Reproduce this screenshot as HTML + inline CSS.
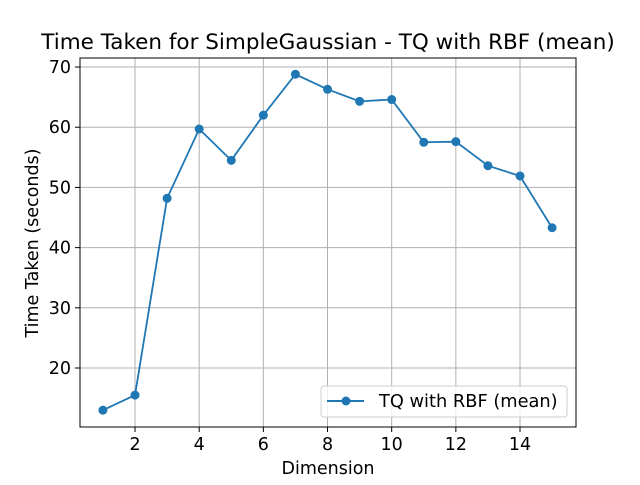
<!DOCTYPE html>
<html><head><meta charset="utf-8"><style>
body{margin:0;background:#fff;}
svg text{font-family:"DejaVu Sans","Liberation Sans",sans-serif;fill:#000;}
</style></head><body>
<svg width="640" height="480" xmlns="http://www.w3.org/2000/svg">
<rect width="640" height="480" fill="#fff"/>
<g id="grid"></g>
<g id="ticks"></g>
<g id="series"></g>
<rect x="80" y="58" width="496" height="369" fill="none" stroke="#000" stroke-width="1"/>
<text x="328" y="49" font-size="21.5" text-anchor="middle">Time Taken for SimpleGaussian - TQ with RBF (mean)</text>
<text x="328" y="474" font-size="17.5" text-anchor="middle">Dimension</text>
<text transform="translate(38,243) rotate(-90)" font-size="17.5" text-anchor="middle">Time Taken (seconds)</text>
<g>
<rect x="321" y="386" width="246" height="31" rx="3" fill="#fff" fill-opacity="0.8" stroke="#ccc"/>
<line x1="327" y1="401" x2="364" y2="401" stroke="#1f77b4" stroke-width="2"/>
<circle cx="346" cy="401" r="4.5" fill="#1f77b4"/>
<text x="379" y="407" font-size="17.8">TQ with RBF (mean)</text>
</g>
</svg>
<script>
const dims=[1,2,3,4,5,6,7,8,9,10,11,12,13,14,15];
const times=[13.0,15.5,48.2,59.7,54.5,62.0,68.8,66.3,64.3,64.6,57.5,57.6,53.6,51.9,43.3];
const xTicks=[2,4,6,8,10,12,14];
const yTicks=[20,30,40,50,60,70];
const NS="http://www.w3.org/2000/svg";
const L=80,R=576,T=58,B=427;
const xMin=0.285,xMax=15.745,yMin=10.2,yMax=71.5;
const xs=v=>L+(v-xMin)/(xMax-xMin)*(R-L);
const ys=v=>B-(v-yMin)/(yMax-yMin)*(B-T);
function mk(tag,attrs,parent){const e=document.createElementNS(NS,tag);for(const k in attrs)e.setAttribute(k,attrs[k]);parent.appendChild(e);return e;}
const grid=document.getElementById('grid'),ticks=document.getElementById('ticks'),series=document.getElementById('series');
xTicks.forEach(t=>{const x=xs(t);
 let g=mk('line',{x1:x,x2:x,y1:T,y2:B,stroke:'#b0b0b0','stroke-width':1},grid);
 
 
 let tk=mk('line',{x1:x,x2:x,y1:B,y2:B+5,stroke:'#000'},ticks);
 
 
 let tx=mk('text',{x:x,y:B+23,'font-size':17.5,'text-anchor':'middle'},ticks);tx.textContent=t;
 
 
});
yTicks.forEach(t=>{const y=ys(t);
 let g=mk('line',{x1:L,x2:R,y1:y,y2:y,stroke:'#b0b0b0','stroke-width':1},grid);
 
 
 let tk=mk('line',{x1:L-5,x2:L,y1:y,y2:y,stroke:'#000'},ticks);
 
 
 let tx=mk('text',{x:L-9,y:y+6,'font-size':17.5,'text-anchor':'end'},ticks);tx.textContent=t;
 
 
});
const pts=dims.map((d,i)=>xs(d)+','+ys(times[i])).join(' ');
let pl=mk('polyline',{points:pts,fill:'none',stroke:'#1f77b4','stroke-width':1.8},series);


dims.forEach((d,i)=>{let c=mk('circle',{cx:xs(d),cy:ys(times[i]),r:4.5,fill:'#1f77b4'},series);
 
 
});
</script>
</body></html>
